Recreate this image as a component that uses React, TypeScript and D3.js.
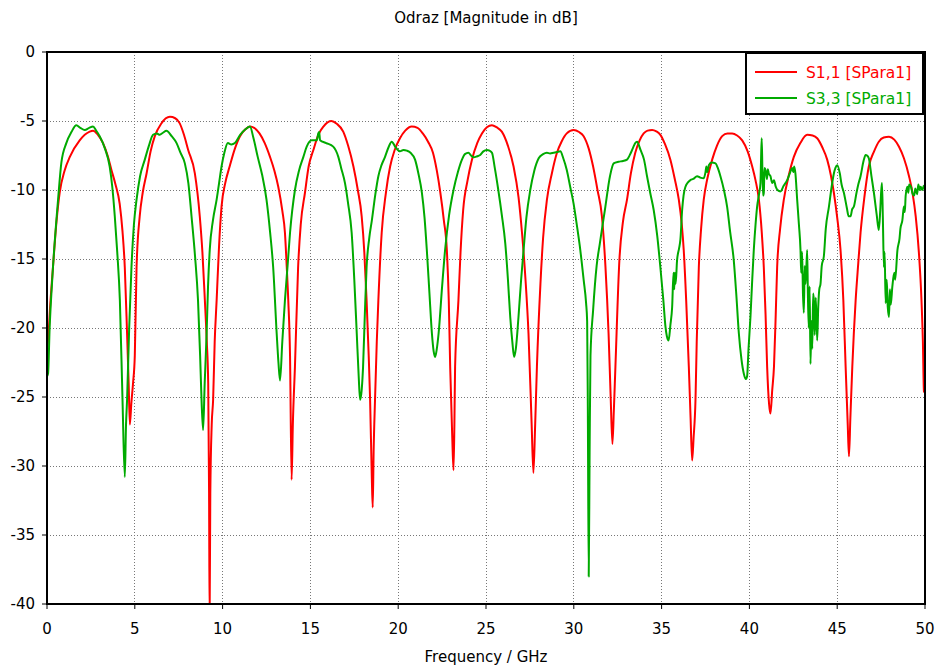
import React from "react";
import * as d3 from "d3";

const title = "Odraz [Magnitude in dB]";
const xLabel = "Frequency / GHz";
const xTicks = [0, 5, 10, 15, 20, 25, 30, 35, 40, 45, 50];
const yTicks = [0, -5, -10, -15, -20, -25, -30, -35, -40];
const seriesNames = ["S1,1 [SPara1]", "S3,3 [SPara1]"];

const s11: [number, number][] = [
  [0,-21.5],[0.06,-20.9],[0.2,-18],[0.34,-15.6],[0.54,-12.3],[0.72,-10.2],[1.0,-8.6],[1.3,-7.6],[1.86,-6.4],[2.43,-5.77],[2.62,-5.7],[2.9,-6.0],[3.19,-6.6],[3.45,-7.5],[3.67,-8.55],[3.9,-9.6],[4.14,-11],[4.3,-13],[4.43,-15.6],[4.56,-20.4],[4.65,-24],[4.72,-27],[4.8,-25.5],[4.9,-24],[5.0,-22],[5.1,-15.6],[5.28,-11.9],[5.45,-10.2],[5.67,-8.8],[5.9,-7.2],[6.14,-6.1],[6.5,-5.2],[7.0,-4.7],[7.3,-4.8],[7.56,-5.17],[7.8,-6.0],[8.04,-7.1],[8.42,-8.8],[8.7,-11.9],[8.85,-14.5],[8.99,-18],[9.1,-21],[9.18,-24],[9.23,-32],[9.26,-41],[9.3,-32],[9.38,-27],[9.46,-25.2],[9.55,-21],[9.66,-18],[9.8,-14],[9.94,-11.2],[10.15,-9.5],[10.4,-8.3],[10.7,-7.0],[10.99,-6.1],[11.3,-5.6],[11.56,-5.4],[11.8,-5.5],[12.1,-5.9],[12.4,-6.6],[12.7,-7.6],[12.95,-8.6],[13.17,-9.76],[13.4,-11.5],[13.55,-13.1],[13.65,-15.5],[13.74,-18],[13.84,-22],[13.93,-31],[14.0,-27],[14.12,-22.8],[14.3,-15.6],[14.45,-12.5],[14.69,-10.2],[14.9,-8.3],[15.17,-7.1],[15.45,-6],[15.74,-5.4],[16.2,-5.0],[16.5,-5.2],[16.87,-5.77],[17.15,-6.8],[17.45,-8.3],[17.7,-10],[17.92,-11.9],[18.07,-14.5],[18.2,-18],[18.32,-22],[18.4,-25.2],[18.5,-31],[18.55,-33],[18.6,-29],[18.68,-25.2],[18.78,-21],[18.87,-18],[19.06,-13.1],[19.3,-10.2],[19.54,-8.3],[19.8,-7.1],[20.1,-6.25],[20.4,-5.7],[20.77,-5.4],[21.1,-5.5],[21.4,-5.9],[21.7,-6.5],[21.98,-7.3],[22.2,-8.6],[22.4,-10.2],[22.6,-12.2],[22.77,-14.35],[22.88,-18],[22.96,-22.8],[23.08,-28],[23.15,-30.3],[23.2,-27],[23.24,-22.8],[23.43,-18],[23.55,-14.5],[23.7,-11.45],[23.95,-9.3],[24.2,-7.8],[24.5,-6.6],[24.77,-5.9],[25.05,-5.45],[25.34,-5.3],[25.6,-5.45],[25.9,-5.77],[26.25,-6.8],[26.57,-8.3],[26.85,-10.5],[27.05,-13.1],[27.25,-16.5],[27.42,-20.4],[27.6,-27],[27.7,-30.5],[27.8,-27],[27.9,-22.8],[28.1,-16.8],[28.25,-13.5],[28.47,-10.7],[28.75,-8.8],[29.04,-7.3],[29.3,-6.5],[29.6,-5.9],[29.99,-5.65],[30.3,-5.8],[30.56,-6.1],[30.85,-7.0],[31.1,-8.3],[31.35,-10],[31.6,-11.9],[31.8,-15.5],[31.98,-20.4],[32.1,-25],[32.2,-28.4],[32.28,-26],[32.37,-22.8],[32.6,-15],[32.8,-12.3],[33.03,-10.7],[33.25,-8.8],[33.5,-7.3],[33.75,-6.4],[33.98,-5.9],[34.2,-5.7],[34.46,-5.65],[34.7,-5.75],[34.93,-6.0],[35.2,-6.7],[35.5,-7.8],[35.75,-9.2],[35.98,-10.7],[36.15,-12.5],[36.26,-14.35],[36.4,-18],[36.55,-22.8],[36.65,-26.5],[36.74,-29.6],[36.82,-28],[36.93,-25.2],[37.0,-21],[37.12,-15.6],[37.25,-12.8],[37.4,-10.7],[37.6,-9.2],[37.88,-7.8],[38.15,-6.8],[38.45,-6.1],[38.75,-5.9],[39.02,-5.9],[39.3,-6.05],[39.59,-6.4],[39.9,-7.2],[40.16,-8.3],[40.35,-9.3],[40.54,-10.7],[40.7,-13],[40.82,-15.6],[40.92,-19],[41.01,-22.8],[41.12,-25.5],[41.2,-26.2],[41.3,-24.5],[41.4,-22.8],[41.5,-19],[41.58,-15.6],[41.75,-12.8],[41.96,-10.7],[42.25,-8.9],[42.53,-7.6],[42.9,-6.6],[43.29,-6.0],[43.6,-6.05],[43.86,-6.25],[44.15,-6.9],[44.43,-7.8],[44.65,-9.0],[44.81,-10.2],[45.0,-12],[45.19,-14.35],[45.35,-18],[45.48,-22.8],[45.6,-27],[45.67,-29.3],[45.75,-26.5],[45.86,-22.8],[46.05,-18],[46.2,-15.3],[46.33,-13.1],[46.55,-10.5],[46.8,-8.3],[47.1,-7.2],[47.37,-6.5],[47.65,-6.2],[47.95,-6.14],[48.25,-6.35],[48.52,-6.86],[48.8,-7.7],[49.09,-9.0],[49.3,-10.3],[49.47,-11.9],[49.65,-14.5],[49.8,-18],[49.88,-21],[49.94,-24.6],[50,-24.7]
];

const s33: [number, number][] = [
  [0,-23.5],[0.06,-23.3],[0.15,-20],[0.25,-17.5],[0.34,-15.6],[0.63,-10.7],[0.82,-8.0],[1.1,-6.6],[1.39,-5.8],[1.67,-5.3],[1.9,-5.5],[2.15,-5.65],[2.4,-5.5],[2.62,-5.4],[2.8,-5.7],[3.0,-6.1],[3.3,-7.0],[3.57,-8.3],[3.72,-9.8],[3.86,-11.9],[4.0,-14.5],[4.15,-18],[4.3,-25.2],[4.43,-30.8],[4.5,-27],[4.56,-25.2],[4.68,-20],[4.81,-15.6],[4.95,-12.5],[5.1,-10.7],[5.3,-9.0],[5.57,-7.8],[5.8,-6.8],[6.04,-6.0],[6.25,-5.9],[6.42,-6.0],[6.6,-5.85],[6.8,-5.7],[7.1,-6.1],[7.38,-6.6],[7.6,-7.3],[7.85,-8.07],[8.05,-9.5],[8.23,-11.9],[8.43,-14.8],[8.6,-18],[8.72,-22],[8.8,-25.2],[8.89,-27.4],[8.98,-24],[9.09,-20.4],[9.17,-17],[9.27,-14.3],[9.45,-12.2],[9.66,-10.7],[9.8,-9.5],[9.94,-8.3],[10.1,-7.3],[10.3,-6.6],[10.5,-6.7],[10.7,-6.6],[11.0,-6.0],[11.3,-5.6],[11.56,-5.4],[11.75,-6.2],[12.0,-7.6],[12.25,-8.9],[12.5,-10.7],[12.7,-13],[12.88,-15.6],[13.08,-20.4],[13.18,-22.5],[13.27,-23.8],[13.4,-21],[13.55,-18],[13.7,-15.5],[13.84,-13.1],[14.12,-10.0],[14.35,-8.6],[14.6,-7.6],[14.79,-6.86],[15.07,-6.4],[15.36,-6.4],[15.45,-5.9],[15.5,-5.8],[15.55,-6.4],[15.9,-6.6],[16.3,-6.86],[16.59,-7.6],[16.75,-8.4],[16.97,-9.5],[17.15,-11],[17.35,-13.1],[17.5,-16.5],[17.64,-20.4],[17.75,-23.5],[17.83,-25.2],[17.92,-24.5],[18.0,-22.8],[18.1,-19],[18.2,-15.6],[18.35,-13.5],[18.5,-12.2],[18.7,-10.3],[18.87,-9.0],[19.05,-8.2],[19.25,-7.6],[19.45,-6.9],[19.63,-6.5],[19.85,-6.9],[20.1,-7.2],[20.3,-7.1],[20.49,-7.15],[20.7,-7.3],[20.96,-7.8],[21.15,-8.8],[21.35,-10.2],[21.5,-12],[21.63,-14.35],[21.78,-17.5],[21.92,-20.4],[22.02,-21.7],[22.1,-22.1],[22.2,-21.5],[22.3,-20.4],[22.5,-17],[22.67,-14.35],[22.9,-11.8],[23.15,-10.0],[23.4,-8.7],[23.63,-7.8],[23.8,-7.4],[24.0,-7.3],[24.15,-7.5],[24.3,-7.63],[24.5,-7.55],[24.67,-7.46],[24.85,-7.2],[25.05,-7.1],[25.2,-7.15],[25.34,-7.3],[25.5,-8.4],[25.7,-10.0],[25.9,-11.8],[26.1,-13.9],[26.25,-16.5],[26.38,-19.2],[26.5,-21],[26.6,-22.1],[26.7,-21.5],[26.85,-19.2],[27.0,-16.5],[27.14,-14.35],[27.3,-12],[27.52,-10.0],[27.75,-8.6],[28.0,-7.7],[28.25,-7.4],[28.47,-7.3],[28.65,-7.35],[28.85,-7.3],[29.05,-7.25],[29.23,-7.2],[29.4,-7.7],[29.6,-8.55],[29.8,-9.8],[29.99,-11],[30.18,-12.6],[30.37,-14.35],[30.56,-16.5],[30.7,-18.2],[30.76,-19.5],[30.8,-26],[30.85,-38],[30.9,-29],[30.95,-22],[31.1,-18.7],[31.3,-15.5],[31.48,-13.9],[31.77,-11.45],[32.06,-9.0],[32.27,-8.07],[32.55,-7.95],[32.8,-7.9],[33.03,-7.8],[33.25,-7.3],[33.4,-6.86],[33.5,-6.6],[33.6,-6.5],[33.8,-7.1],[34.0,-7.8],[34.17,-9.0],[34.35,-10.2],[34.55,-11.45],[34.75,-13.3],[34.93,-15.6],[35.1,-18],[35.22,-19.9],[35.3,-20.6],[35.4,-20.9],[35.5,-19.8],[35.6,-18.5],[35.68,-16.0],[35.72,-17.2],[35.75,-16.0],[35.8,-16.8],[35.88,-15.1],[36.0,-14.2],[36.07,-13.6],[36.17,-11.45],[36.25,-10.4],[36.36,-9.76],[36.5,-9.45],[36.64,-9.28],[36.8,-9.2],[37.02,-9.0],[37.2,-9.1],[37.4,-9.15],[37.5,-8.7],[37.55,-8.3],[37.6,-8.7],[37.69,-8.2],[37.85,-8.0],[38.07,-8.07],[38.2,-8.4],[38.35,-9.0],[38.55,-10],[38.73,-11.2],[38.9,-13],[39.11,-15.1],[39.25,-17.5],[39.4,-20.4],[39.55,-22.3],[39.68,-23.3],[39.8,-23.7],[39.87,-23.5],[39.95,-21.5],[40.06,-19.2],[40.15,-16.8],[40.25,-14.35],[40.35,-12.5],[40.44,-11.2],[40.55,-10.3],[40.63,-9.5],[40.66,-8.0],[40.7,-6.25],[40.74,-8.5],[40.78,-10.4],[40.82,-10.2],[40.86,-8.4],[40.92,-8.55],[41.0,-9.2],[41.05,-8.5],[41.1,-8.8],[41.2,-9.0],[41.3,-9.5],[41.4,-9.3],[41.5,-9.76],[41.6,-10.0],[41.77,-10.1],[41.95,-9.7],[42.15,-9.28],[42.3,-8.8],[42.44,-8.4],[42.5,-8.7],[42.55,-8.3],[42.62,-8.8],[42.72,-10.7],[42.82,-12.5],[42.91,-14.35],[42.95,-16],[43.0,-14.5],[43.05,-17.5],[43.1,-18.9],[43.15,-15.5],[43.2,-16.8],[43.29,-14.35],[43.33,-17.5],[43.38,-20],[43.43,-17],[43.48,-22.6],[43.53,-19.5],[43.58,-21.5],[43.63,-17.5],[43.67,-18],[43.72,-20.5],[43.78,-17.8],[43.86,-20.9],[43.92,-18.5],[43.98,-17.2],[44.05,-16.8],[44.12,-15.5],[44.24,-14.8],[44.35,-12.8],[44.53,-11.2],[44.68,-9.8],[44.81,-8.8],[44.9,-8.4],[45.0,-8.2],[45.15,-8.8],[45.25,-9.6],[45.38,-10.2],[45.55,-11.3],[45.65,-11.9],[45.76,-11.9],[45.85,-11.4],[45.95,-11.2],[46.1,-10.2],[46.2,-9.6],[46.33,-9.0],[46.5,-7.9],[46.62,-7.46],[46.7,-7.5],[46.8,-7.7],[46.95,-9.0],[47.09,-10.2],[47.25,-11.8],[47.37,-12.9],[47.45,-11.5],[47.5,-10.2],[47.55,-9.5],[47.6,-12],[47.66,-15.6],[47.7,-14.5],[47.76,-18.2],[47.82,-16.5],[47.88,-18.5],[47.95,-19.2],[48.0,-17.2],[48.05,-18.3],[48.14,-17.0],[48.25,-16],[48.3,-16.5],[48.43,-14.35],[48.55,-13.5],[48.6,-12.8],[48.71,-12.2],[48.8,-11.2],[48.85,-11.6],[48.9,-10.4],[49.0,-9.76],[49.05,-10.2],[49.1,-9.6],[49.2,-9.76],[49.3,-10.3],[49.38,-10.4],[49.45,-9.9],[49.55,-10.3],[49.62,-9.6],[49.7,-10],[49.75,-9.76],[49.85,-10.0],[49.93,-9.7],[50,-9.9]
];

const colors = ["#ff0000", "#00aa00"];

const W = 938, H = 668;
const M = { left: 47, right: 925, top: 52, bottom: 604 };
const FONT = "'DejaVu Sans', Verdana, sans-serif";

export default function App() {
  const x = d3.scaleLinear().domain([0, 50]).range([M.left, M.right]);
  const y = d3.scaleLinear().domain([-40, 0]).range([M.bottom, M.top]);
  const line = d3.line<[number, number]>()
    .x((d) => x(d[0]))
    .y((d) => y(d[1]))
    .curve(d3.curveMonotoneX);
  const series = [s11, s33];

  return (
    <svg width={W} height={H} style={{ position: "absolute", left: 0, top: 0, background: "#fff" }}
      fontFamily={FONT}>
      <defs>
        <clipPath id="plotclip">
          <rect x={M.left} y={M.top} width={M.right - M.left} height={M.bottom - M.top} />
        </clipPath>
      </defs>
      <rect x={0} y={0} width={W} height={H} fill="#fff" />
      {xTicks.slice(1, -1).map((t) => (
        <line key={"gx" + t} x1={x(t)} x2={x(t)} y1={M.top} y2={M.bottom}
          stroke="#777" strokeWidth={1} strokeDasharray="1 2" shapeRendering="crispEdges" />
      ))}
      {yTicks.slice(1, -1).map((t) => (
        <line key={"gy" + t} x1={M.left} x2={M.right} y1={y(t)} y2={y(t)}
          stroke="#777" strokeWidth={1} strokeDasharray="1 2" shapeRendering="crispEdges" />
      ))}
      <g clipPath="url(#plotclip)">
        {series.map((s, i) => (
          <path key={i} d={line(s) || ""} fill="none" stroke={colors[i]} strokeWidth={2}
            strokeLinejoin="round" />
        ))}
      </g>
      <rect x={M.left} y={M.top} width={M.right - M.left} height={M.bottom - M.top}
        fill="none" stroke="#000" strokeWidth={2} />
      {xTicks.map((t) => (
        <g key={"xt" + t}>
          <line x1={x(t)} x2={x(t)} y1={M.bottom} y2={M.bottom + 5} stroke="#000" strokeWidth={1} />
          <text x={x(t)} y={M.bottom + 30} textAnchor="middle" fontSize={15} fill="#000">{t}</text>
        </g>
      ))}
      {yTicks.map((t) => (
        <g key={"yt" + t}>
          <line x1={M.left - 5} x2={M.left} y1={y(t)} y2={y(t)} stroke="#000" strokeWidth={1} />
          <text x={35} y={y(t)} dy="0.36em" textAnchor="end" fontSize={15} fill="#000">{t}</text>
        </g>
      ))}
      <text x={(M.left + M.right) / 2} y={23} textAnchor="middle" fontSize={15} fill="#000">{title}</text>
      <text x={(M.left + M.right) / 2} y={662} textAnchor="middle" fontSize={15} fill="#000">{xLabel}</text>
      <g>
        <rect x={746} y={53} width={177} height={61} fill="#fff" stroke="#000" strokeWidth={2} />
        {seriesNames.map((n, i) => (
          <g key={n}>
            <line x1={755} x2={797} y1={72 + i * 26} y2={72 + i * 26} stroke={colors[i]} strokeWidth={2} />
            <text x={806} y={72 + i * 26} dy="0.36em" fontSize={15.5} fill={colors[i]}>{n}</text>
          </g>
        ))}
      </g>
    </svg>
  );
}
